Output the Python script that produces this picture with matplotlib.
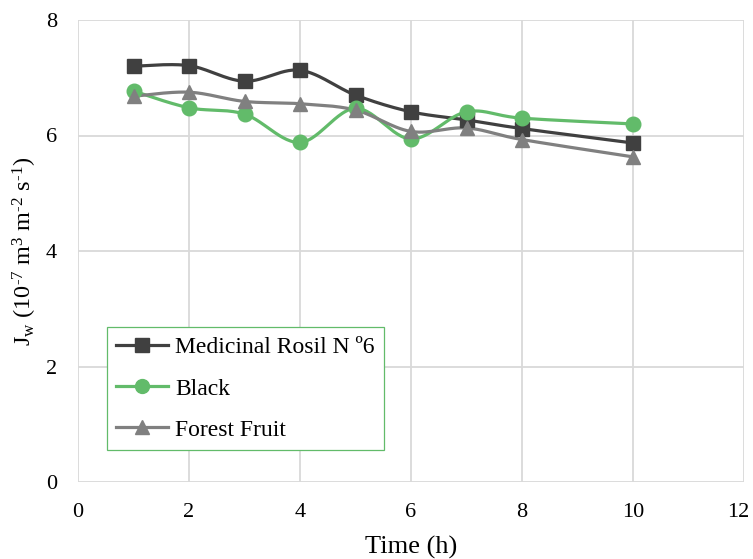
import numpy as np
import matplotlib.pyplot as plt
from matplotlib.transforms import ScaledTranslation

plt.rcParams['font.family'] = ['Liberation Serif', 'DejaVu Serif']
plt.rcParams['mathtext.fontset'] = 'custom'
plt.rcParams['mathtext.rm'] = 'Liberation Serif'
plt.rcParams['mathtext.it'] = 'Liberation Serif:italic'

# Flux readings over time for three samples
time_h = [1, 2, 3, 4, 5, 6, 7, 8, 10]
rosil = [7.20, 7.21, 6.94, 7.13, 6.70, 6.41, 6.27, 6.12, 5.87]
black = [6.77, 6.48, 6.37, 5.88, 6.47, 5.94, 6.41, 6.30, 6.20]
forest = [6.68, 6.75, 6.59, 6.55, 6.44, 6.07, 6.13, 5.93, 5.63]

labels = ['Medicinal Rosil N º6', 'Black', 'Forest Fruit']
colors = ['#404040', '#62BB6A', '#808080']
markers = ['s', 'o', '^']


def smooth(xs, ys, n=30):
    # cubic Bezier through the points, control points from neighbouring slopes
    p = np.column_stack([xs, ys]).astype(float)
    pts = np.vstack([p[0], p, p[-1]])
    out = []
    for i in range(1, len(pts) - 2):
        p0, p1, p2, p3 = pts[i - 1], pts[i], pts[i + 1], pts[i + 2]
        c1 = p1 + (p2 - p0) / 6
        c2 = p2 - (p3 - p1) / 6
        t = np.linspace(0, 1, n)[:, None]
        seg = ((1 - t) ** 3) * p1 + 3 * ((1 - t) ** 2) * t * c1 + 3 * (1 - t) * t ** 2 * c2 + t ** 3 * p2
        out.append(seg if i == 1 else seg[1:])
    seg = np.vstack(out)
    return seg[:, 0], seg[:, 1]


fig = plt.figure(figsize=(7.53, 5.59), dpi=100)
ax = fig.add_axes([78 / 753, 77 / 559, 666 / 753, 462 / 559])

for ys, lab, c, m in zip([rosil, black, forest], labels, colors, markers):
    sx, sy = smooth(time_h, ys)
    ax.plot(sx, sy, color=c, lw=2.3, zorder=3)
    ax.plot(time_h, ys, ls='none', marker=m, color=c, ms=10 if m == 's' else 10.5, zorder=4)
    ax.plot([], [], color=c, lw=2.3, marker=m, ms=10, label=lab)

ax.set_xlim(0, 12)
ax.set_ylim(0, 8)
ax.set_xticks(range(0, 13, 2))
ax.set_yticks(range(0, 9, 2))
ax.grid(True, color='#d9d9d9', lw=1.3)
ax.set_axisbelow(True)
for s in ax.spines.values():
    s.set_visible(False)
ax.tick_params(length=0, labelsize=16)
ax.tick_params(axis='x', pad=15)
ax.tick_params(axis='y', pad=15)

# keep the last x tick label inside the figure
last = ax.get_xticklabels()[-1]
last.set_transform(last.get_transform() + ScaledTranslation(-4 / 72, 0, fig.dpi_scale_trans))

ax.set_xlabel('Time (h)', fontsize=19, labelpad=10)
ax.set_ylabel('J$_\\mathrm{w}$ (10$^{\\mathrm{\u20107}}$ m$^\\mathrm{3}$ m$^{\\mathrm{\u20102}}$ s$^{\\mathrm{\u20101}}$)',
              fontsize=17.5, labelpad=5)

leg = ax.legend(loc='lower left', bbox_to_anchor=(0.043, 0.069), fontsize=17,
                frameon=True, fancybox=False, edgecolor='#62BB6A', framealpha=1,
                handlelength=2.2, labelspacing=0.83, borderpad=0.4, handletextpad=0.3,
                borderaxespad=0)
leg.get_frame().set_linewidth(0.9)

fig.savefig('out.png', dpi=100)
